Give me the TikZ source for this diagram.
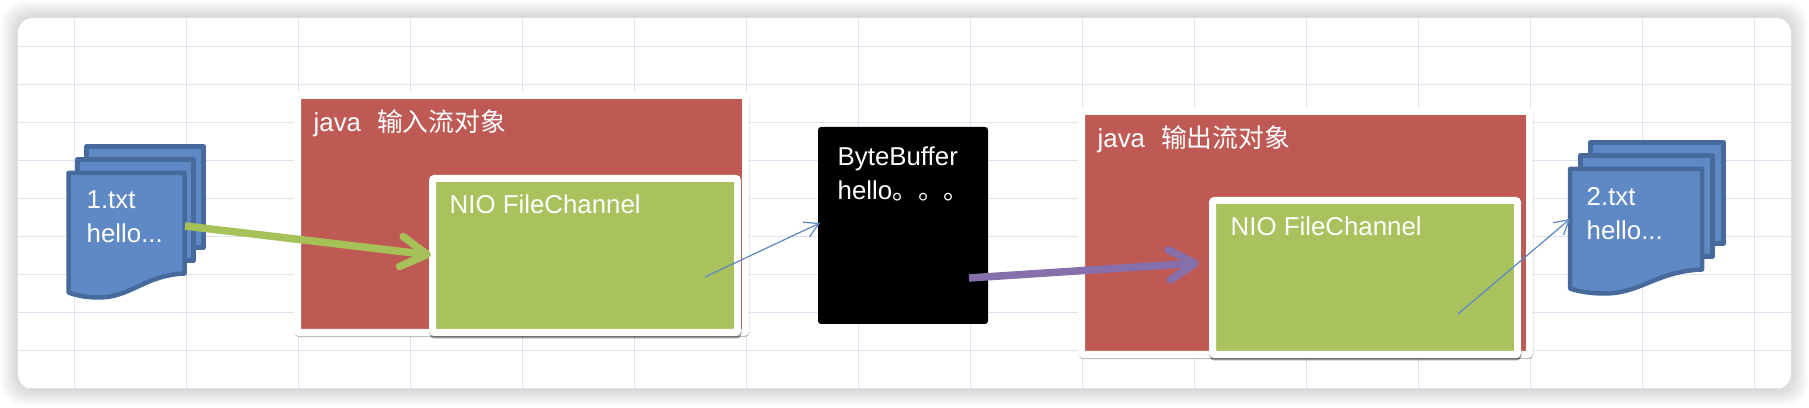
\documentclass[tikz,border=0pt]{standalone}
\usepackage{fontspec}
\setmainfont{Liberation Sans}
\newfontfamily\cjk{Noto Sans CJK SC}
\definecolor{DocBlue}{RGB}{95, 137, 197}
\definecolor{DocEdge}{RGB}{70, 106, 156}
\definecolor{BoxRed}{RGB}{191, 89, 84}
\definecolor{BoxGreen}{RGB}{169, 194, 93}
\definecolor{ArrGreen}{RGB}{165, 193, 88}
\definecolor{ArrPurple}{RGB}{133, 112, 172}
\definecolor{ArrBlue}{RGB}{91, 135, 197}
\definecolor{GridLine}{RGB}{221, 227, 242}
\usetikzlibrary{arrows.meta, shadows}
\begin{document}
\begin{tikzpicture}[
  card/.style={fill=white, rounded corners=0.15cm, minimum width=17.73cm, minimum height=3.71cm, inner sep=0pt},
  frame/.style={draw=white, line width=0.07cm, rounded corners=0.02cm, inner sep=0pt},
  redbox/.style={frame, fill=BoxRed, minimum width=4.48cm, drop shadow={shadow xshift=0.004cm, shadow yshift=-0.012cm, opacity=0.25, fill=black, draw=black, line width=0.07cm}},
  greenbox/.style={frame, fill=BoxGreen, minimum width=3.05cm, minimum height=1.54cm, drop shadow={shadow xshift=0.004cm, shadow yshift=-0.025cm, opacity=0.4, fill=black, draw=black, line width=0.07cm}},
  bufbox/.style={fill=black, rounded corners=0.03cm, minimum width=1.7cm, minimum height=1.97cm, inner sep=0pt},
  lab/.style={text=white, anchor=base west, align=left, inner sep=0pt, font=\fontsize{7.35}{9.8}\selectfont},
  sheet/.style={draw=DocEdge, fill=DocBlue, line width=0.045cm, line join=round},
  docstack/.pic={
    \draw[sheet] (0.18,0.265) rectangle (1.35,-0.745);
    \draw[sheet] (0.09,0.135) rectangle (1.25,-0.875);
    \draw[sheet] (0,0) -- (1.16,0) -- (1.16,-1.005) .. controls (0.765,-1.02) and (0.615,-1.25) .. (0.295,-1.245) .. controls (0.185,-1.245) and (0.075,-1.225) .. (0,-1.195) -- cycle;
  },
  garr/.style={-{Straight Barb[round, length=0.26cm, width=0.3cm]}, ArrGreen, line width=0.075cm},
  parr/.style={-{Straight Barb[round, length=0.26cm, width=0.3cm]}, ArrPurple, line width=0.075cm},
  barr/.style={-{Straight Barb[length=0.14cm, width=0.16cm]}, ArrBlue, line width=0.012cm},
  shade/.style={preaction={draw=black, opacity=0.35, transform canvas={yshift=-0.025cm}}}]
\useasboundingbox (0,0) rectangle (18.09,4.08);
\foreach \s in {0.02,0.04,...,0.16}
  \fill[black, opacity=0.019, rounded corners=0.2cm] (0.18-\s,0.19-\s) rectangle (17.91+\s,3.90+\s);
\node[card] (page) at (9.045,2.045) {};
\begin{scope}
\clip[rounded corners=0.15cm] (page.south west) rectangle (page.north east);
\foreach \x in {0,...,15}
  \draw[GridLine, line width=0.012cm] (0.747+1.12*\x,0.19) -- (0.747+1.12*\x,3.90);
\foreach \y in {0,...,9}
  \draw[GridLine, line width=0.012cm] (0.18,0.197+0.38*\y) -- (17.91,0.197+0.38*\y);
\end{scope}
\pic at (0.685,2.35) {docstack};
\pic[xscale=1.138] at (15.70,2.39) {docstack};
\node[redbox, minimum height=2.37cm] (inobj) at (5.215,1.94) {};
\node[greenbox] (inchan) at (5.85,1.525) {};
\node[redbox, minimum height=2.43cm] (outobj) at (13.055,1.75) {};
\node[greenbox] (outchan) at (13.65,1.305) {};
\node[bufbox] (buf) at (9.03,1.825) {};
\node[lab] (file1) at (0.86,1.65) {1.txt\\hello...};
\node[lab] (file2) at (15.86,1.685) {2.txt\\hello...};
\node[lab] (intxt) at (3.13,2.76) {java\hspace{0.16cm}{\cjk 输入流对象}};
\node[lab] (inlab) at (4.49,1.94) {NIO FileChannel};
\node[lab] (outtxt) at (10.97,2.60) {java\hspace{0.16cm}{\cjk 输出流对象}};
\node[lab] (outlab) at (12.30,1.72) {NIO FileChannel};
\node[lab] (buftxt) at (8.37,2.085) {ByteBuffer\\hello{\cjk 。。。}};
\coordinate (ga) at (1.85,1.82);
\coordinate (gb) at (4.31,1.53);
\coordinate (ba) at (7.05,1.31);
\coordinate (bb) at (8.20,1.85);
\coordinate (pa) at (9.69,1.30);
\coordinate (pb) at (11.99,1.45);
\coordinate (ca) at (14.58,0.94);
\coordinate (cb) at (15.70,1.89);
\draw[garr, shade] (ga) -- (gb);
\draw[barr] (ba) -- (bb);
\draw[parr, shade] (pa) -- (pb);
\draw[barr] (ca) -- (cb);
\end{tikzpicture}
\end{document}
